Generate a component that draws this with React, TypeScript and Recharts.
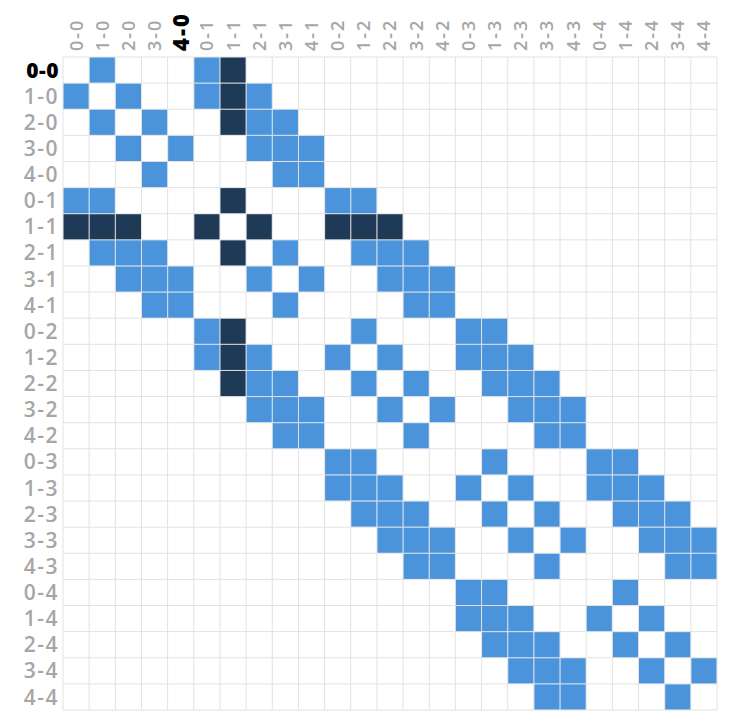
import { ScatterChart, Scatter, XAxis, YAxis, CartesianGrid } from "recharts"

// node labels, "column-row"
const nodes = [
  "0-0", "1-0", "2-0", "3-0", "4-0",
  "0-1", "1-1", "2-1", "3-1", "4-1",
  "0-2", "1-2", "2-2", "3-2", "4-2",
  "0-3", "1-3", "2-3", "3-3", "4-3",
  "0-4", "1-4", "2-4", "3-4", "4-4",
]

// 0 = empty, 1 = linked, 2 = linked to the selected node
const matrixRows = [
  "01000 12000 00000 00000 00000",
  "10100 12100 00000 00000 00000",
  "01010 02110 00000 00000 00000",
  "00101 00111 00000 00000 00000",
  "00010 00011 00000 00000 00000",
  "11000 02000 11000 00000 00000",
  "22200 20200 22200 00000 00000",
  "01110 02010 01110 00000 00000",
  "00111 00101 00111 00000 00000",
  "00011 00010 00011 00000 00000",
  "00000 12000 01000 11000 00000",
  "00000 12100 10100 11100 00000",
  "00000 02110 01010 01110 00000",
  "00000 00111 00101 00111 00000",
  "00000 00011 00010 00011 00000",
  "00000 00000 11000 01000 11000",
  "00000 00000 11100 10100 11100",
  "00000 00000 01110 01010 01110",
  "00000 00000 00111 00101 00111",
  "00000 00000 00011 00010 00011",
  "00000 00000 00000 11000 01000",
  "00000 00000 00000 11100 10100",
  "00000 00000 00000 01110 01010",
  "00000 00000 00000 00111 00101",
  "00000 00000 00000 00011 00010",
]

const highlightRow = "0-0"
const highlightCol = "4-0"

const BLUE = "#4b93da"
const DARK = "#1f3a56"
const GREY = "#a6a6a6"

const PLOT_W = 654
const PLOT_H = 653
const CELL_W = PLOT_W / nodes.length
const CELL_H = PLOT_H / nodes.length

const centers = nodes.map((_, i) => i + 0.5)
const bounds = nodes.map((_, i) => i).concat([nodes.length])

const cells: { x: number; y: number; v: number }[] = []
matrixRows.forEach((row, r) => {
  row.replace(/ /g, "").split("").forEach((v, c) => {
    if (v !== "0") cells.push({ x: c + 0.5, y: r + 0.5, v: Number(v) })
  })
})

const font = "'Open Sans', Arial, sans-serif"

function ColTick({ x, y, payload }: any) {
  const label = nodes[Math.floor(payload.value)]
  const hot = label === highlightCol
  return (
    <text
      transform={`translate(${x},${y}) rotate(-90)`}
      textAnchor="start"
      dy="0.36em"
      fontFamily={font}
      fontSize={hot ? 22 : 18}
      fontWeight={hot ? 800 : 600}
      letterSpacing={2}
      fill={hot ? "#000" : GREY}
    >
      {label}
    </text>
  )
}

function RowTick({ x, y, payload }: any) {
  const label = nodes[Math.floor(payload.value)]
  const hot = label === highlightRow
  return (
    <text
      x={x}
      y={y}
      textAnchor="end"
      dy="0.36em"
      fontFamily={font}
      fontSize={21}
      fontWeight={hot ? 800 : 600}
      letterSpacing={hot ? 0.5 : 1.5}
      fill={hot ? "#000" : GREY}
    >
      {label}
    </text>
  )
}

function CellShape({ cx, cy, payload }: any) {
  return (
    <rect
      x={cx - CELL_W / 2 + 0.5}
      y={cy - CELL_H / 2 + 0.5}
      width={CELL_W - 1}
      height={CELL_H - 1}
      fill={payload.v === 2 ? DARK : BLUE}
    />
  )
}

export default function App() {
  return (
    <ScatterChart width={730} height={712} margin={{ top: 0, right: 21, bottom: 10, left: 0 }}>
      <CartesianGrid
        stroke="#e2e2e2"
        verticalCoordinatesGenerator={({ offset }: any) => bounds.map((b) => offset.left + b * CELL_W)}
        horizontalCoordinatesGenerator={({ offset }: any) => bounds.map((b) => offset.top + b * CELL_H)}
      />
      <XAxis
        type="number"
        dataKey="x"
        orientation="top"
        domain={[0, nodes.length]}
        ticks={centers}
        interval={0}
        height={49}
        axisLine={false}
        tickLine={false}
        tickMargin={0}
        tick={<ColTick />}
      />
      <YAxis
        type="number"
        dataKey="y"
        reversed
        domain={[0, nodes.length]}
        ticks={centers}
        interval={0}
        width={55}
        axisLine={false}
        tickLine={false}
        tickMargin={-2}
        tick={<RowTick />}
      />
      <Scatter data={cells} shape={<CellShape />} isAnimationActive={false} />
    </ScatterChart>
  )
}
